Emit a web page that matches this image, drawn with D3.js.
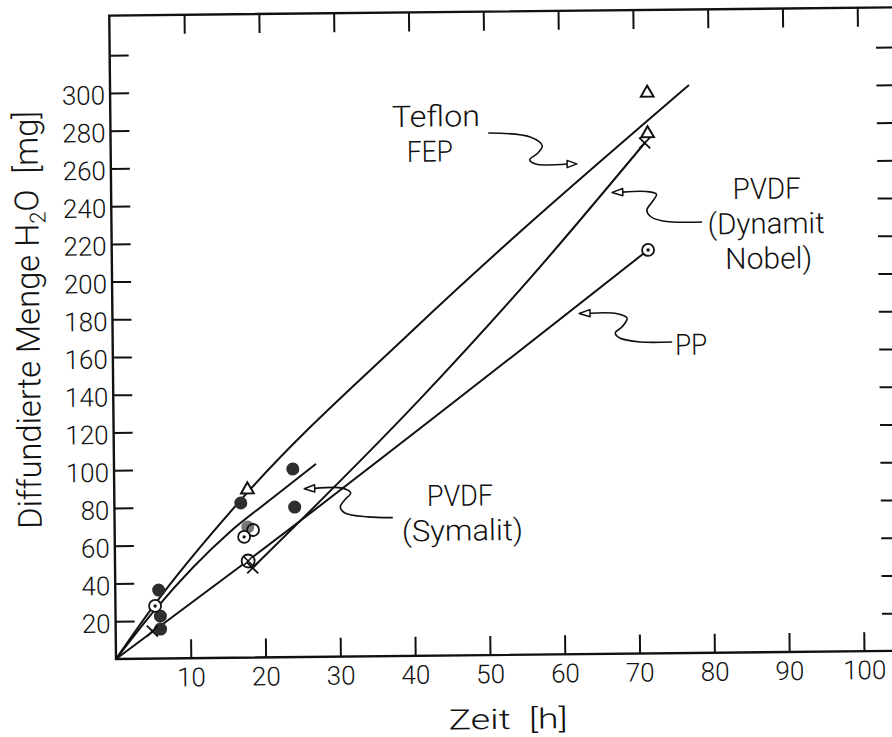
<!DOCTYPE html>
<html>
<head>
<meta charset="utf-8">
<script src="https://cdn.jsdelivr.net/npm/d3@7"></script>
<style>
  body { margin: 0; background: #fff; }
  svg text {
    font-family: Roboto, Lato, 'Liberation Sans', sans-serif;
    font-weight: 300;
    fill: #111;
    white-space: pre;
  }
</style>
</head>
<body>
<svg id="chart" width="892" height="737"></svg>
<script>
// ---- axis ticks ----
const xTicks = [10, 20, 30, 40, 50, 60, 70, 80, 90, 100];
const yTicks = [20, 40, 60, 80, 100, 120, 140, 160, 180, 200, 220, 240, 260, 280, 300, 320];
const yTickLabels = [20, 40, 60, 80, 100, 120, 140, 160, 180, 200, 220, 240, 260, 280, 300];

// ---- measurements: [Zeit h, diffundierte Menge mg] ----
const teflonPoints   = [[17.8, 89], [71.8, 297], [71.8, 275.5]];
const teflonCurve    = [[0, 0], [5.5, 30], [17, 84], [40, 172], [77.4, 301]];

const dynamitPoints  = [[4.9, 14.6], [18.4, 47.5], [71.4, 270.5]];
const dynamitCurve   = [[18.5, 48], [40.9, 135.6], [55.7, 198.6], [71.4, 270.5]];

const ppPoints       = [[5.3, 27.9], [17.3, 64], [71.7, 213.8]];
const ppCrossed      = [[17.8, 51.2]];
const ppCurve        = [[0, 0], [17.8, 51.5], [71.7, 213.8]];

const symalitPoints  = [[5.8, 36.3], [6.0, 22.5], [6.0, 15.6], [16.9, 82], [23.9, 99.7], [24.1, 79.5]];
const symalitGrey    = [[17.8, 69.2]];
const openRings      = [[18.5, 67.6]];
const symalitCurve   = [[0, 0], [5.3, 26], [15.4, 66.7], [20.8, 83.4], [27, 102.3]];

// ---- callouts: text lines and leader paths (tip first), in data units ----
const calloutLabels = [
  { text: "Teflon",    at: [37.65, 280.4], width: 88 },
  { text: "FEP",       at: [39.6, 261.8],  width: 46 },
  { text: "PVDF",      at: [83.1, 240.3],  width: 68 },
  { text: "(Dynamit",  at: [79.7, 221.8],  width: 117 },
  { text: "Nobel)",    at: [82.0, 203.3],  width: 87 },
  { text: "PP",        at: [75.2, 158],    width: 32 },
  { text: "PVDF",      at: [41.8, 79.3],   width: 66 },
  { text: "(Symalit)", at: [38.4, 60.8],   width: 121 }
];
const leaderTeflon  = [[62.3, 259.8], [61.0, 259.8], [56.8, 260.0], [56.0, 262.2], [57.1, 265.8], [57.7, 269.5], [56.1, 274.3], [50.5, 276.7]];
const leaderDynamit = [[66.97, 244.5], [68.4, 244.6], [71.5, 244.8], [72.9, 243.3], [72.3, 239.2], [71.6, 235.0], [72.0, 231.8], [73.7, 229.1], [78.96, 228.3]];
const leaderPP      = [[62.4, 180.5], [63.85, 180.6], [67.5, 180.2], [68.8, 177.8], [68.1, 173.1], [67.2, 170.0], [67.8, 167.3], [70.5, 165.1], [74.8, 164.9]];
const leaderSymalit = [[25.4, 89.2], [26.8, 89.3], [30.5, 89.3], [31.6, 86.7], [30.8, 83.0], [30.2, 79.3], [30.8, 76.1], [33.9, 73.9], [37.2, 73.4]];

// ---- layout ----
const ox = 116, oy = 659;
const x = d3.scaleLinear().domain([0, 105]).range([ox, ox + 105 * 7.48]);
const y = d3.scaleLinear().domain([0, 341]).range([oy, oy - 341 * 1.887]);
const ink = "#111";

const svg = d3.select("#chart");
// the whole sheet sits slightly tilted on the page
const g = svg.append("g").attr("transform", `rotate(-0.6,${ox},${oy})`);

// frame
g.append("rect")
  .attr("x", x(0)).attr("y", y(341))
  .attr("width", x(105) - x(0)).attr("height", y(0) - y(341))
  .attr("fill", "none").attr("stroke", ink).attr("stroke-width", 2.4);

function styleAxis(sel) {
  sel.select(".domain").remove();
  sel.selectAll(".tick line").attr("stroke", ink).attr("stroke-width", 2);
  sel.selectAll(".tick text").attr("font-size", 26).attr("fill", ink);
}

g.append("g").attr("transform", `translate(0,${y(0)})`)
  .call(d3.axisBottom(x).tickValues(xTicks).tickSize(-19).tickPadding(9.5).tickFormat(d3.format("d")))
  .call(styleAxis);

g.append("g").attr("transform", `translate(0,${y(341)})`)
  .call(d3.axisTop(x).tickValues(xTicks).tickSize(-19).tickFormat(""))
  .call(styleAxis);

g.append("g").attr("transform", `translate(${x(0)},0)`)
  .call(d3.axisLeft(y).tickValues(yTicks).tickSize(-19).tickPadding(5)
        .tickFormat(d => yTickLabels.includes(d) ? d : ""))
  .call(styleAxis)
  .call(a => a.selectAll(".tick text").attr("dy", "0.42em"));

g.append("g").attr("transform", `translate(${x(105)},0)`)
  .call(d3.axisRight(y).tickValues(yTicks).tickSize(-19).tickFormat(""))
  .call(styleAxis);

// axis titles
g.append("text")
  .attr("x", x(0) + 332).attr("y", y(0) + 74)
  .attr("font-size", 28)
  .attr("textLength", 119).attr("lengthAdjust", "spacingAndGlyphs")
  .text("Zeit  [h]");

const yt = g.append("text")
  .attr("transform", `translate(${x(0) - 73},${y(0) - 131}) rotate(-90)`)
  .attr("font-size", 33)
  .attr("textLength", 418).attr("lengthAdjust", "spacingAndGlyphs");
yt.append("tspan").text("Diffundierte Menge H");
yt.append("tspan").attr("font-size", 22).attr("dy", 7).text("2");
yt.append("tspan").attr("dy", -7).text("O  [mg]");

// curves
const line = d3.line().x(d => x(d[0])).y(d => y(d[1])).curve(d3.curveMonotoneX);
[teflonCurve, symalitCurve, ppCurve, dynamitCurve].forEach(c => {
  g.append("path").attr("d", line(c))
    .attr("fill", "none").attr("stroke", ink).attr("stroke-width", 2)
    .attr("stroke-linejoin", "round");
});

// markers
const mk = g.append("g");
mk.selectAll(".filled").data(symalitPoints).join("circle")
  .attr("cx", d => x(d[0])).attr("cy", d => y(d[1])).attr("r", 6.5)
  .attr("fill", "#2e2e2e");
mk.selectAll(".grey").data(symalitGrey).join("circle")
  .attr("cx", d => x(d[0])).attr("cy", d => y(d[1])).attr("r", 6.5)
  .attr("fill", "#777");
mk.selectAll(".ring").data(openRings).join("circle")
  .attr("cx", d => x(d[0])).attr("cy", d => y(d[1])).attr("r", 6)
  .attr("fill", "none").attr("stroke", ink).attr("stroke-width", 1.8);

const tri = d3.symbol().type(d3.symbolTriangle).size(70);
mk.selectAll(".tri").data(teflonPoints).join("path")
  .attr("transform", d => `translate(${x(d[0])},${y(d[1])})`)
  .attr("d", tri).attr("fill", "#fff").attr("stroke", ink).attr("stroke-width", 2);

const dotted = mk.selectAll(".pp").data(ppPoints).join("g")
  .attr("transform", d => `translate(${x(d[0])},${y(d[1])})`);
dotted.append("circle").attr("r", 6).attr("fill", "#fff").attr("stroke", ink).attr("stroke-width", 1.8);
dotted.append("circle").attr("r", 1.7).attr("fill", ink);

const crossed = mk.selectAll(".ppx").data(ppCrossed).join("g")
  .attr("transform", d => `translate(${x(d[0])},${y(d[1])})`);
crossed.append("circle").attr("r", 6.5).attr("fill", "#fff").attr("stroke", ink).attr("stroke-width", 1.8);
crossed.append("path").attr("d", "M-4.5,-4.5L4.5,4.5M-4.5,4.5L4.5,-4.5")
  .attr("stroke", ink).attr("stroke-width", 1.6);

mk.selectAll(".x").data(dynamitPoints).join("path")
  .attr("transform", d => `translate(${x(d[0])},${y(d[1])})`)
  .attr("d", "M-5.5,-5.5L5.5,5.5M-5.5,5.5L5.5,-5.5")
  .attr("fill", "none").attr("stroke", ink).attr("stroke-width", 1.8);

// callouts
const leaderLine = d3.line().x(d => x(d[0])).y(d => y(d[1])).curve(d3.curveCatmullRom.alpha(0.5));
[leaderTeflon, leaderDynamit, leaderPP, leaderSymalit].forEach(pts => {
  g.append("path").attr("d", leaderLine(pts.slice(1)))
    .attr("fill", "none").attr("stroke", ink).attr("stroke-width", 1.6);
  const tx = x(pts[0][0]), ty = y(pts[0][1]);
  const bx = x(pts[1][0]), by = y(pts[1][1]);
  const len = Math.hypot(tx - bx, ty - by);
  const nx = -(ty - by) / len * 3.6, ny = (tx - bx) / len * 3.6;
  g.append("path")
    .attr("d", `M${tx},${ty}L${bx + nx},${by + ny}L${bx - nx},${by - ny}Z`)
    .attr("fill", "#fff").attr("stroke", ink).attr("stroke-width", 1.5)
    .attr("stroke-linejoin", "round");
});

g.selectAll(".callout").data(calloutLabels).join("text")
  .attr("x", d => x(d.at[0])).attr("y", d => y(d.at[1]))
  .attr("font-size", 29.5)
  .attr("textLength", d => d.width).attr("lengthAdjust", "spacingAndGlyphs")
  .text(d => d.text);
</script>
</body>
</html>
